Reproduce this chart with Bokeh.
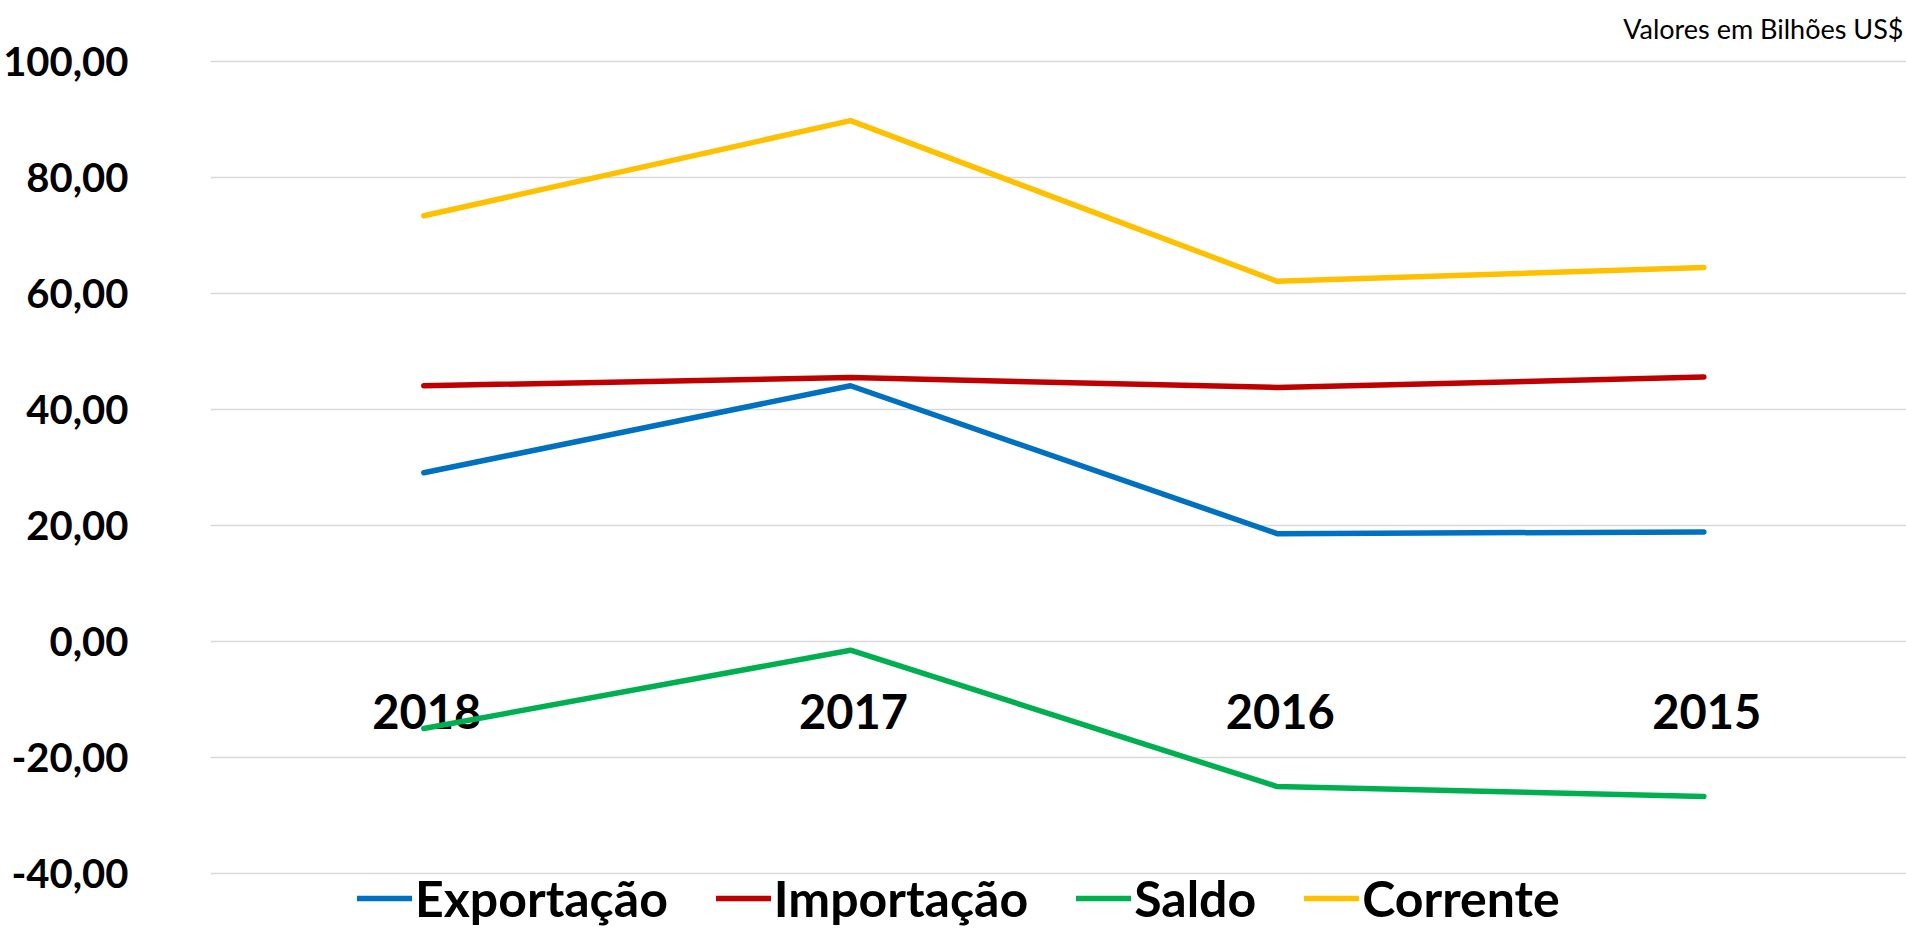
from bokeh.plotting import figure
from bokeh.models import Range1d, FixedTicker, Legend, LegendItem, Label, ColumnDataSource
from bokeh.core.properties import value
from bokeh.embed import file_html
from bokeh.resources import INLINE

years = ["2018", "2017", "2016", "2015"]
exportacao = [29.1, 44.1, 18.6, 18.9]
importacao = [44.1, 45.5, 43.8, 45.6]
saldo = [-15.0, -1.5, -25.0, -26.7]
corrente = [73.4, 89.8, 62.1, 64.5]

y_ticks = [-40, -20, 0, 20, 40, 60, 80, 100]
y_tick_labels = ["-40,00", "-20,00", "0,00", "20,00", "40,00", "60,00", "80,00", "100,00"]

series = [
    ("Exportação", exportacao, "#0070C0"),
    ("Importação", importacao, "#C00000"),
    ("Saldo", saldo, "#00B050"),
    ("Corrente", corrente, "#FFC000"),
]

FONT = "Lato"
xs = list(range(len(years)))

p = figure(width=1906, height=928, output_backend="svg", toolbar_location=None,
           x_range=Range1d(-0.5, 3.475), y_range=Range1d(-49.48, 110.52),
           min_border_left=209, min_border_right=0, min_border_top=0, min_border_bottom=0)
p.outline_line_color = None
p.background_fill_color = "white"
p.border_fill_color = "white"

p.xaxis.visible = False
p.xgrid.visible = False

p.yaxis.ticker = FixedTicker(ticks=y_ticks)
p.yaxis.major_label_overrides = {t: l for t, l in zip(y_ticks, y_tick_labels)}
p.yaxis.axis_line_color = None
p.yaxis.major_tick_line_color = None
p.yaxis.minor_tick_line_color = None
p.yaxis.major_tick_out = 0
p.yaxis.major_tick_in = 0
p.yaxis.major_label_standoff = 82
p.yaxis.major_label_text_font = FONT
p.yaxis.major_label_text_font_style = "bold"
p.yaxis.major_label_text_font_size = "40px"
p.yaxis.major_label_text_color = "black"
p.ygrid.ticker = FixedTicker(ticks=y_ticks)
p.ygrid.grid_line_color = "#D9D9D9"
p.ygrid.grid_line_width = 1.5

# category labels at the zero line
src_lbl = ColumnDataSource(dict(x=xs, y=[0] * len(years), t=years))
p.text(x="x", y="y", text="t", source=src_lbl, text_align="center", text_baseline="middle",
       x_offset=3, y_offset=70, text_font=value(FONT), text_font_style="bold",
       text_font_size="47px", text_color="black")

items = []
for name, vals, color in series:
    r = p.line(xs, vals, line_color=color, line_width=5.5, line_cap="round", line_join="round")
    items.append(LegendItem(label=name, renderers=[r]))

legend = Legend(items=items, orientation="horizontal", location=(147, 0),
                label_text_font=FONT, label_text_font_style="bold", label_text_font_size="50px",
                label_text_color="black", glyph_width=55, glyph_height=40, label_standoff=3,
                spacing=48, padding=0, margin=0, border_line_color=None,
                background_fill_alpha=0)
p.add_layout(legend, "center")

note = Label(x=3.468, y=105.77, text="Valores em Bilhões US$", text_font=FONT,
             text_font_size="27px", text_align="right", text_baseline="middle", text_color="black")
p.add_layout(note)

open("out.html", "w").write(file_html(p, INLINE))
